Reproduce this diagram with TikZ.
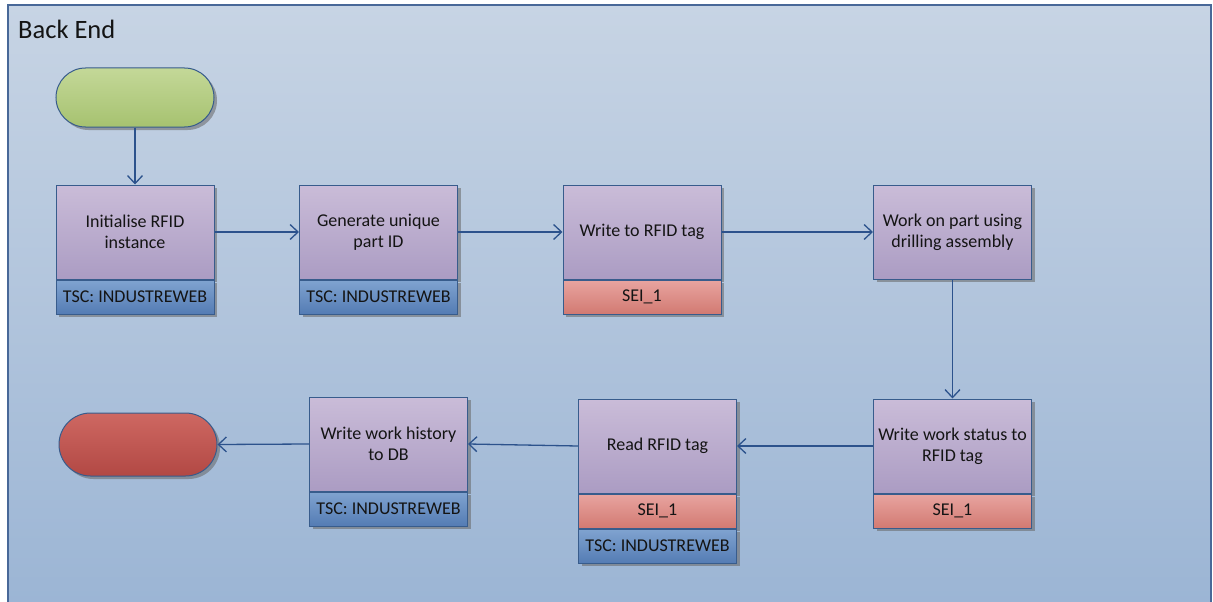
\documentclass[tikz,border=0pt]{standalone}
\usepackage{fontspec}
\setmainfont{Carlito}
\usetikzlibrary{arrows.meta,shadows,shapes.misc}

\definecolor{frameTop}{RGB}{199,212,228}
\definecolor{frameBot}{RGB}{154,180,212}
\definecolor{frameLine}{RGB}{72,104,152}
\definecolor{edge}{RGB}{56,92,140}
\definecolor{lavTop}{RGB}{202,188,216}
\definecolor{lavBot}{RGB}{171,156,195}
\definecolor{tscTop}{RGB}{128,163,208}
\definecolor{tscBot}{RGB}{84,124,180}
\definecolor{seiTop}{RGB}{232,164,160}
\definecolor{seiBot}{RGB}{210,122,114}
\definecolor{startTop}{RGB}{196,216,152}
\definecolor{startBot}{RGB}{166,194,112}
\definecolor{endTop}{RGB}{206,104,98}
\definecolor{endBot}{RGB}{178,72,68}
\definecolor{flow}{RGB}{44,82,140}
\definecolor{ink}{RGB}{20,20,20}

\tikzset{
  boxshadow/.style={drop shadow={shadow xshift=3pt,shadow yshift=-3pt,fill=black!60,opacity=0.55}},
  task/.style={rectangle, draw=edge, line width=1pt, top color=lavTop, bottom color=lavBot,
    minimum width=158pt, minimum height=94pt, inner sep=0pt, align=center, text=ink,
    font=\fontsize{18}{21}\selectfont, boxshadow},
  band/.style={rectangle, draw=edge, line width=1pt, minimum width=158pt, minimum height=34pt,
    inner sep=0pt, anchor=north, text=ink, font=\fontsize{18}{21}\selectfont, boxshadow},
  tsc/.style={band, top color=tscTop, bottom color=tscBot},
  sei/.style={band, top color=seiTop, bottom color=seiBot},
  terminal/.style={rounded rectangle, draw=edge, line width=1pt, minimum width=158pt,
    inner sep=0pt, boxshadow},
  flowarrow/.style={draw=flow, line width=1.3pt, -{Straight Barb[length=8pt,width=15pt]}}
}

\begin{document}
\begin{tikzpicture}[x=1pt,y=-1pt]
  \useasboundingbox (0,0) rectangle (1213,602);
  \clip (0,0) rectangle (1213,602);

  % swimlane
  \draw[frameLine, line width=1.6pt, top color=frameTop, bottom color=frameBot]
    (8,5) rectangle (1211,625);
  \node[anchor=base west, inner sep=0pt, text=ink, font=\fontsize{26.5}{31}\selectfont] (lane) at (18,39) {Back End};

  % start / end
  \node[terminal, minimum height=59pt, top color=startTop, bottom color=startBot] (start) at (135,97.5) {};
  \node[terminal, minimum height=63pt, top color=endTop, bottom color=endBot] (stop) at (138,444.5) {};

  % top row
  \node[task] (t1) at (135,232) {Initialise RFID\\instance};
  \node[tsc] (t1b) at (t1.south) {TSC: INDUSTREWEB};

  \node[task] (t2) at (378.5,232) {Generate unique\\part ID};
  \node[tsc] (t2b) at (t2.south) {TSC: INDUSTREWEB};

  \node[task] (t3) at (642,232) {Write to RFID tag};
  \node[sei] (t3b) at (t3.south) {SEI\_1};

  \node[task] (t4) at (952.5,232) {Work on part using\\drilling assembly};

  % bottom row
  \node[task] (t5) at (952.5,446) {Write work status to\\RFID tag};
  \node[sei] (t5b) at (t5.south) {SEI\_1};

  \node[task] (t6) at (657.5,446) {Read RFID tag};
  \node[sei] (t6b) at (t6.south) {SEI\_1};
  \node[tsc] (t6c) at (t6b.south) {TSC: INDUSTREWEB};

  \node[task] (t7) at (388.5,444) {Write work history\\to DB};
  \node[tsc] (t7b) at (t7.south) {TSC: INDUSTREWEB};

  % flow
  \draw[flowarrow] (start.south) -- (t1.north);
  \draw[flowarrow] (t1.east) -- (t2.west);
  \draw[flowarrow] (t2.east) -- (t3.west);
  \draw[flowarrow] (t3.east) -- (t4.west);
  \draw[flowarrow] (t4.south) -- (t5.north);
  \draw[flowarrow] (t5.west) -- (t6.east);
  \draw[flowarrow] (t6.west) -- (t7.east);
  \draw[flowarrow] (t7.west) -- (stop.east);
\end{tikzpicture}
\end{document}
